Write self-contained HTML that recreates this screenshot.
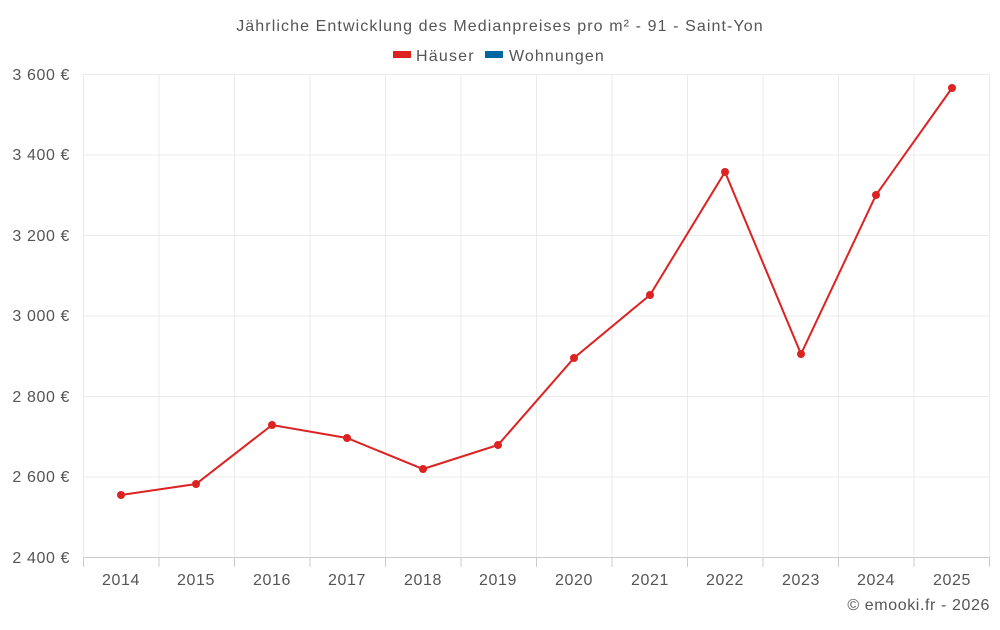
<!DOCTYPE html>
<html><head><meta charset="utf-8"><style>
body{margin:0;background:#fff;}
svg text{font-family:"Liberation Sans",sans-serif;fill:#555;letter-spacing:0.6px;}
</style></head><body>
<svg width="1000" height="625" viewBox="0 0 1000 625" xmlns="http://www.w3.org/2000/svg">
<text x="500" y="31" font-size="16" text-anchor="middle" style="letter-spacing:1.1px">Jährliche Entwicklung des Medianpreises pro m² - 91 - Saint-Yon</text>
<rect x="393" y="51" width="18" height="7" fill="#dd2222"/>
<text x="416" y="61" font-size="16" style="letter-spacing:1.2px">Häuser</text>
<rect x="485" y="51" width="18" height="7" fill="#0066a1"/>
<text x="509" y="61" font-size="16" style="letter-spacing:1.1px">Wohnungen</text>
<g stroke="#ebebeb" stroke-width="1">
<line x1="83" y1="74.5" x2="990" y2="74.5"/>
<line x1="83" y1="155" x2="990" y2="155"/>
<line x1="83" y1="235.5" x2="990" y2="235.5"/>
<line x1="83" y1="316" x2="990" y2="316"/>
<line x1="83" y1="396.5" x2="990" y2="396.5"/>
<line x1="83" y1="477" x2="990" y2="477"/>
<line x1="83.5" y1="74" x2="83.5" y2="557"/>
<line x1="159" y1="74" x2="159" y2="557"/>
<line x1="234.5" y1="74" x2="234.5" y2="557"/>
<line x1="310" y1="74" x2="310" y2="557"/>
<line x1="385.5" y1="74" x2="385.5" y2="557"/>
<line x1="461" y1="74" x2="461" y2="557"/>
<line x1="536.5" y1="74" x2="536.5" y2="557"/>
<line x1="612" y1="74" x2="612" y2="557"/>
<line x1="687.5" y1="74" x2="687.5" y2="557"/>
<line x1="763" y1="74" x2="763" y2="557"/>
<line x1="838.5" y1="74" x2="838.5" y2="557"/>
<line x1="914" y1="74" x2="914" y2="557"/>
<line x1="989.5" y1="74" x2="989.5" y2="557"/>
</g>
<line x1="83" y1="557.5" x2="990" y2="557.5" stroke="#ccc"/>
<g stroke="#ccc">
<line x1="83.5" y1="557" x2="83.5" y2="567"/><line x1="159" y1="557" x2="159" y2="567"/><line x1="234.5" y1="557" x2="234.5" y2="567"/><line x1="310" y1="557" x2="310" y2="567"/><line x1="385.5" y1="557" x2="385.5" y2="567"/><line x1="461" y1="557" x2="461" y2="567"/><line x1="536.5" y1="557" x2="536.5" y2="567"/><line x1="612" y1="557" x2="612" y2="567"/><line x1="687.5" y1="557" x2="687.5" y2="567"/><line x1="763" y1="557" x2="763" y2="567"/><line x1="838.5" y1="557" x2="838.5" y2="567"/><line x1="914" y1="557" x2="914" y2="567"/><line x1="989.5" y1="557" x2="989.5" y2="567"/>
</g>
<g font-size="16" text-anchor="end">
<text x="70" y="80">3 600 €</text><text x="70" y="160">3 400 €</text><text x="70" y="241">3 200 €</text><text x="70" y="321">3 000 €</text><text x="70" y="402">2 800 €</text><text x="70" y="482">2 600 €</text><text x="70" y="563">2 400 €</text>
</g>
<g font-size="16" text-anchor="middle">
<text x="121" y="585">2014</text><text x="196" y="585">2015</text><text x="272" y="585">2016</text><text x="347" y="585">2017</text><text x="423" y="585">2018</text><text x="498" y="585">2019</text><text x="574" y="585">2020</text><text x="650" y="585">2021</text><text x="725" y="585">2022</text><text x="801" y="585">2023</text><text x="876" y="585">2024</text><text x="952" y="585">2025</text>
</g>
<polyline fill="none" stroke="#dd2222" stroke-width="2" points="121,495 196,484 272,425 347,438 423,469 498,445 574,358 650,295 725,172 801,354 876,195 952,88"/>
<g fill="#dd2222">
<circle cx="121" cy="495" r="4"/><circle cx="196" cy="484" r="4"/><circle cx="272" cy="425" r="4"/><circle cx="347" cy="438" r="4"/><circle cx="423" cy="469" r="4"/><circle cx="498" cy="445" r="4"/><circle cx="574" cy="358" r="4"/><circle cx="650" cy="295" r="4"/><circle cx="725" cy="172" r="4"/><circle cx="801" cy="354" r="4"/><circle cx="876" cy="195" r="4"/><circle cx="952" cy="88" r="4"/>
</g>
<text x="990" y="610" font-size="16" text-anchor="end">© emooki.fr - 2026</text>
</svg>
</body></html>
